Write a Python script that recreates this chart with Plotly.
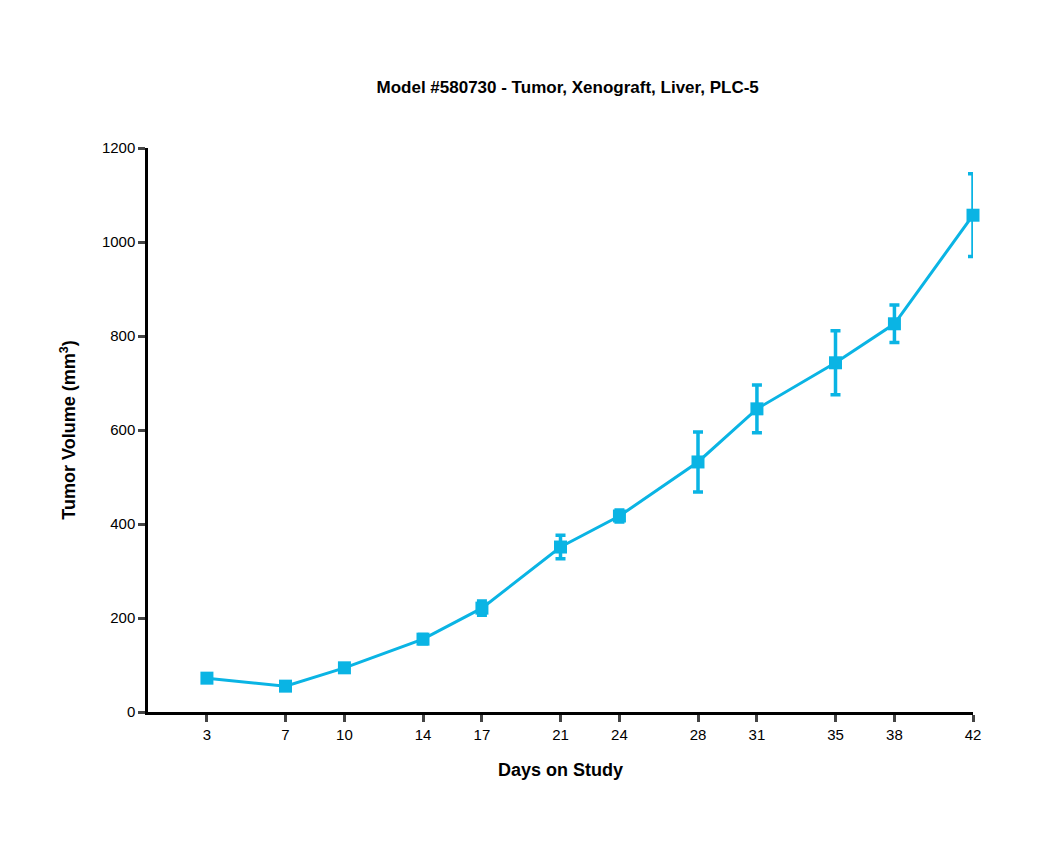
import plotly.graph_objects as go

days = [3, 7, 10, 14, 17, 21, 24, 28, 31, 35, 38, 42]
volume = [72, 55, 94, 155, 221, 351, 417, 532, 645, 743, 826, 1057]
error = [6, 6, 6, 10, 15, 25, 13, 64, 51, 68, 40, 88]

color = "#0AB4E4"

fig = go.Figure()
fig.add_trace(
    go.Scatter(
        x=days,
        y=volume,
        mode="lines+markers",
        line={"color": color, "width": 3},
        marker={"symbol": "square", "size": 13, "color": color},
        error_y={"type": "data", "array": error, "color": color,
                 "thickness": 3.5, "width": 5},
        cliponaxis=False,
        showlegend=False,
    )
)

fig.update_layout(
    width=1050,
    height=855,
    paper_bgcolor="white",
    plot_bgcolor="white",
    font={"family": "Liberation Sans, Arial", "color": "black", "size": 15},
    title={"text": "<b>Model #580730 - Tumor, Xenograft, Liver, PLC-5</b>",
           "x": 0.533, "xanchor": "center", "y": 0.915, "font": {"size": 17}},
    margin={"l": 140, "r": 85, "t": 140, "b": 151},
)
fig.update_xaxes(
    range=[0, 42],
    tickvals=days,
    showgrid=False,
    zeroline=False,
    showline=True,
    linecolor="black",
    linewidth=2.5,
    ticks="outside",
    ticklen=7,
    tickwidth=2.5,
    title={"text": "<b>Days on Study</b>", "standoff": 22},
)
fig.update_yaxes(
    range=[0, 1200],
    dtick=200,
    showgrid=False,
    zeroline=False,
    showline=True,
    linecolor="black",
    linewidth=2.5,
    ticks="outside",
    ticklen=7,
    tickwidth=2.5,
    title={"text": "<b>Tumor Volume (mm<sup>3</sup>)</b>", "standoff": 22},
)

fig.write_html("out.html")
